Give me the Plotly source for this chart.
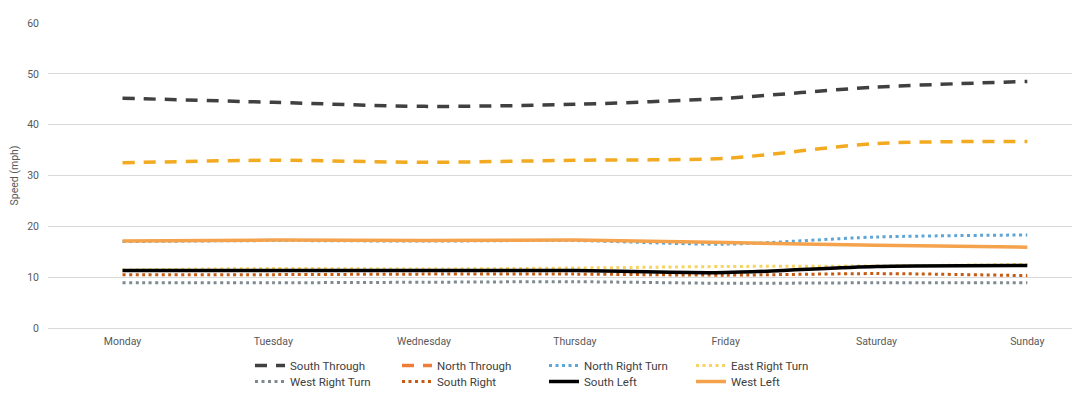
import plotly.graph_objects as go

days = ["Monday", "Tuesday", "Wednesday", "Thursday", "Friday", "Saturday", "Sunday"]

south_through = [45.2, 44.4, 43.6, 44.0, 45.2, 47.4, 48.5]
north_through = [32.5, 33.0, 32.6, 33.0, 33.4, 36.3, 36.7]
north_right_turn = [17.0, 17.2, 17.1, 17.2, 16.5, 17.9, 18.3]
east_right_turn = [11.4, 11.7, 11.6, 11.8, 12.1, 12.2, 12.5]
west_right_turn = [8.9, 8.9, 9.0, 9.1, 8.8, 8.9, 8.9]
south_right = [10.5, 10.5, 10.6, 10.6, 10.4, 10.7, 10.3]
south_left = [11.3, 11.3, 11.3, 11.3, 10.9, 12.1, 12.3]
west_left = [17.1, 17.3, 17.2, 17.3, 16.8, 16.3, 15.9]

y_ticks = [0, 10, 20, 30, 40, 50, 60]

FONT = "Roboto, Arial, sans-serif"
TXT = "#595959"
LEG = "#404040"

fig = go.Figure()

def add(name, y, color, width, dash, legend, showlegend=True):
    fig.add_trace(go.Scatter(
        x=days, y=y, name=name, mode="lines",
        line=dict(color=color, width=width, dash=dash, shape="spline", smoothing=0.8),
        legend=legend, showlegend=showlegend, hoverinfo="skip"))

add("South Through", south_through, "#404040", 3.5, "12px,9px", "legend")
add("North Through", north_through, "#F2AA20", 3.5, "12px,9px", "legend", showlegend=False)
# legend entry for North Through (legend swatch colour differs in the original)
fig.add_trace(go.Scatter(x=days, y=[None] * len(days), name="North Through", mode="lines",
                         line=dict(color="#EE7D3A", width=3.5, dash="12px,9px"),
                         legend="legend", hoverinfo="skip"))
add("North Right Turn", north_right_turn, "#5DA5D5", 3, "3px,3.5px", "legend")
add("East Right Turn", east_right_turn, "#F7D460", 3, "3px,3.5px", "legend")
add("West Right Turn", west_right_turn, "#7F8A90", 3, "3px,3.5px", "legend2")
add("South Right", south_right, "#C55A11", 3, "3px,3.5px", "legend2")
add("South Left", south_left, "#000000", 3.5, "solid", "legend2")
add("West Left", west_left, "#F4A24C", 3.5, "solid", "legend2")

plot_l, plot_r_px = 48, 1072
spacing = 150.8
x0 = -(122.5 - plot_l) / spacing
x1 = x0 + (plot_r_px - plot_l) / spacing

fig.update_layout(
    width=1092, height=396,
    margin=dict(l=plot_l, r=1092 - plot_r_px, t=23, b=68, autoexpand=False),
    paper_bgcolor="white", plot_bgcolor="white",
    font=dict(family=FONT, size=10.5, color=TXT),
    xaxis=dict(range=[x0, x1], showgrid=False, zeroline=False, showline=False,
               ticks="", ticklabelstandoff=5, automargin=False,
               tickfont=dict(size=10.5, color=TXT)),
    yaxis=dict(range=[0, 60], tickvals=y_ticks, showgrid=True, gridcolor="#D9D9D9",
               gridwidth=1, zeroline=True, zerolinecolor="#D9D9D9", zerolinewidth=1,
               showline=False, ticks="", ticklabelstandoff=8, automargin=False,
               tickfont=dict(size=10.5, color=TXT),
               title=dict(text="Speed (mph)", font=dict(size=10.5, color=TXT), standoff=6)),
    legend=dict(orientation="h", xref="container", yref="container", x=250 / 1092,
                y=1 - 351 / 396, xanchor="left", yanchor="top",
                entrywidth=102, entrywidthmode="pixels",
                font=dict(size=11.5, color=LEG), bgcolor="rgba(0,0,0,0)"),
    legend2=dict(orientation="h", xref="container", yref="container", x=250 / 1092,
                 y=1 - 367 / 396, xanchor="left", yanchor="top",
                 entrywidth=102, entrywidthmode="pixels",
                 font=dict(size=11.5, color=LEG), bgcolor="rgba(0,0,0,0)"),
    showlegend=True,
)

fig.write_html("out.html")
